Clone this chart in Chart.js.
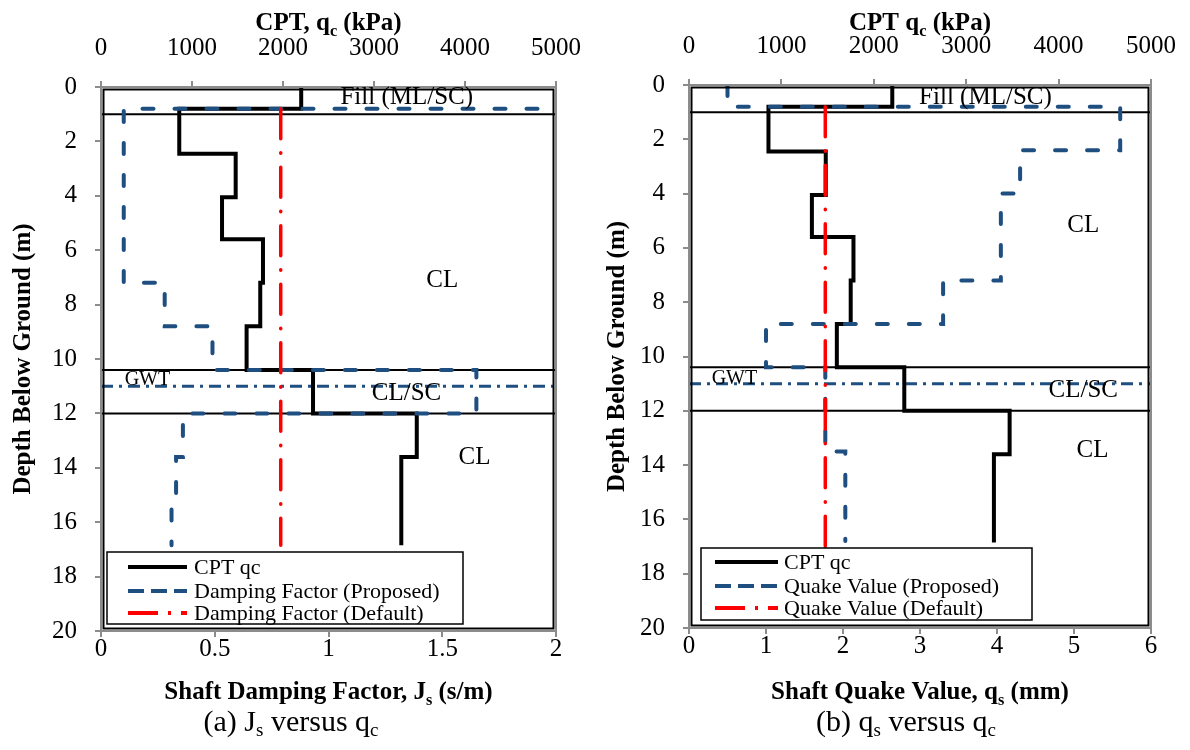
<!DOCTYPE html>
<html>
<head>
<meta charset="utf-8">
<title>Js and qs versus qc</title>
<script src="https://cdn.jsdelivr.net/npm/chart.js@4.4.1/dist/chart.umd.min.js"></script>
<style>
	body { margin: 0; background: #fff; }
	#page { position: relative; width: 1190px; height: 750px; overflow: hidden; font-family: "Liberation Serif", "Times New Roman", serif; }
	.box { position: absolute; top: 0; height: 750px; }
	#boxA { left: 0; width: 590px; }
	#boxB { left: 590px; width: 600px; }
	.cap { position: absolute; top: 703px; font-size: 30px; line-height: 36px; color: #000; transform: translateX(-50%); white-space: nowrap; }
	.cap sub { font-size: 19px; vertical-align: -5px; line-height: 0; }
</style>
</head>
<body>
<div id="page">
	<div class="box" id="boxA"><canvas id="chartA"></canvas></div>
	<div class="box" id="boxB"><canvas id="chartB"></canvas></div>
	<div class="cap" style="left: 291px;">(a) J<sub>s</sub> versus q<sub>c</sub></div>
	<div class="cap" style="left: 906px;">(b) q<sub>s</sub> versus q<sub>c</sub></div>
</div>
<script>
// values (depth in m)
const cptQc = [2200, 2200, 860, 860, 1480, 1480, 1330, 1330, 1780, 1780, 1750, 1750, 1600, 1600, 2330, 2330, 3470, 3470, 3300, 3300]
const cptDepth = [0, 0.8, 0.8, 2.45, 2.45, 4.05, 4.05, 5.6, 5.6, 7.2, 7.2, 8.8, 8.8, 10.4, 10.4, 12, 12, 13.6, 13.6, 16.85]

const jsProposed = [2.2, 0.1, 0.1, 0.28, 0.28, 0.49, 0.49, 1.65, 1.65, 0.36, 0.36, 0.33, 0.33, 0.31, 0.31]
const jsProposedDepth = [0.8, 0.8, 7.2, 7.2, 8.8, 8.8, 10.4, 10.4, 12, 12, 13.6, 13.6, 15.2, 15.2, 16.85]
const jsDefault = [0.79, 0.79]
const jsDefaultDepth = [0.8, 16.85]

const qsProposed = [0.5, 0.5, 5.6, 5.6, 4.3, 4.3, 4.05, 4.05, 3.3, 3.3, 1.0, 1.0, 1.77, 1.77, 2.03, 2.03]
const qsProposedDepth = [0, 0.8, 0.8, 2.4, 2.4, 4.0, 4.0, 7.2, 7.2, 8.8, 8.8, 10.4, 10.4, 13.5, 13.5, 16.8]
const qsDefault = [1.77, 1.77]
const qsDefaultDepth = [0.8, 17.0]

const layerDepths = [1.0, 10.4, 12.0]
const gwtDepths = [11.0]

const depthTicks = [0, 2, 4, 6, 8, 10, 12, 14, 16, 18, 20]
const qcTicks = [0, 1000, 2000, 3000, 4000, 5000]
const jsTicks = [0, 0.5, 1, 1.5, 2]
const qsTicks = [0, 1, 2, 3, 4, 5, 6]

const legendA = ['CPT qc', 'Damping Factor (Proposed)', 'Damping Factor (Default)']
const legendB = ['CPT qc', 'Quake Value (Proposed)', 'Quake Value (Default)']

var app = app || {}
app = (() => {
	const FONT = '"Liberation Serif", "Times New Roman", serif'
	const BLUE = '#1f4e80'
	const RED = '#ff0000'

	let styles = {
		cpt: { borderColor: '#000', borderWidth: 4, borderJoinStyle: 'miter' },
		proposed: { borderColor: BLUE, borderWidth: 4, borderDash: [11, 21], borderCapStyle: 'round' },
		dflt: { borderColor: RED, borderWidth: 3.5, borderDash: [30, 14, 0.5, 14], borderCapStyle: 'round' },
		gwt: { borderColor: BLUE, borderWidth: 3, borderDash: [12, 6, 3, 6] },
		layer: { borderColor: '#000', borderWidth: 2 }
	}
	// legend swatches use a shorter dash, like the original
	let swatch = [
		{ color: '#000', width: 4, dash: [] },
		{ color: BLUE, width: 4, dash: [16, 7] },
		{ color: RED, width: 4, dash: [30, 10, 3, 10] }
	]

	let pts = (xs, ys) => xs.map((x, i) => ({ x: x, y: ys[i] }))

	let lineSet = (data, xAxisID, style, clip) => Object.assign({
		data: data, xAxisID: xAxisID, yAxisID: 'y',
		showLine: true, pointRadius: 0, pointHoverRadius: 0, fill: false, tension: 0,
		clip: clip === undefined ? 2 : clip
	}, style)

	let rich = (c, parts, x, y, size, bold) => {
		let f = s => `${bold ? 'bold ' : ''}${s}px ${FONT}`
		let w = 0
		parts.forEach(p => {
			c.font = f(p.sub ? size * 0.65 : size)
			w += c.measureText(p.t).width
		})
		let px = x - w / 2
		c.textAlign = 'left'
		c.textBaseline = 'alphabetic'
		parts.forEach(p => {
			c.font = f(p.sub ? size * 0.65 : size)
			c.fillText(p.t, px, p.sub ? y + size * 0.25 : y)
			px += c.measureText(p.t).width
		})
	}

	let overlay = cfg => ({
		id: 'overlay',
		afterDraw: chart => {
			let c = chart.ctx, a = chart.chartArea
			let sx = chart.scales.x, sy = chart.scales.y
			c.save()
			// plot frame: grey axis box with black plot border just inside
			c.setLineDash([])
			c.strokeStyle = '#8c8c8c'
			c.lineWidth = 2
			c.strokeRect(a.left, a.top, a.right - a.left, a.bottom - a.top)
			c.strokeStyle = '#000'
			c.lineWidth = 2
			c.strokeRect(a.left + 2.5, a.top + 2.5, a.right - a.left - 5, a.bottom - a.top - 5)

			// soil layer notes
			c.fillStyle = '#000'
			c.textAlign = 'center'
			c.textBaseline = 'middle'
			cfg.notes.forEach(n => {
				c.font = `${n.size}px ${FONT}`
				c.fillText(n.text, sx.getPixelForValue(n.x), sy.getPixelForValue(n.y))
			})

			// legend box
			let L = cfg.legend
			c.fillStyle = '#fff'
			c.fillRect(L.x, L.y, L.w, L.h)
			c.strokeStyle = '#000'
			c.lineWidth = 1.5
			c.strokeRect(L.x, L.y, L.w, L.h)
			L.labels.forEach((t, i) => {
				let s = swatch[i]
				c.beginPath()
				c.strokeStyle = s.color
				c.lineWidth = s.width
				c.setLineDash(s.dash)
				c.moveTo(L.sx0, L.rows[i])
				c.lineTo(L.sx1, L.rows[i])
				c.stroke()
				c.setLineDash([])
				c.fillStyle = '#000'
				c.font = `22px ${FONT}`
				c.textAlign = 'left'
				c.textBaseline = 'middle'
				c.fillText(t, L.tx, L.rows[i] + 1)
			})

			// axis titles
			c.fillStyle = '#000'
			let mid = (a.left + a.right) / 2
			rich(c, cfg.topTitle, mid, 30, 25, true)
			rich(c, cfg.bottomTitle, mid, 699, 25, true)
			c.translate(cfg.yTitleX, (a.top + a.bottom) / 2)
			c.rotate(-Math.PI / 2)
			c.font = `bold 25px ${FONT}`
			c.textAlign = 'center'
			c.textBaseline = 'middle'
			c.fillText('Depth Below Ground (m)', 0, 0)
			c.restore()
		}
	})

	let axis = (pos, min, max, ticks, padding, fit) => ({
		type: 'linear', position: pos, min: min, max: max,
		reverse: pos === 'left',
		afterBuildTicks: s => { s.ticks = ticks.map(v => ({ value: v })) },
		afterFit: s => {
			fit(s)
			// keep the plot area where the layout puts it, labels may overhang
			s.paddingLeft = s.paddingRight = s.paddingTop = s.paddingBottom = 0
		},
		grid: { display: true, drawOnChartArea: false, drawTicks: true, tickLength: 6, color: '#8c8c8c', lineWidth: 2 },
		border: { display: false },
		ticks: {
			color: '#000', padding: padding, maxRotation: 0, autoSkip: false,
			font: { family: FONT, size: 25, lineHeight: 1 },
			callback: v => `${v}`
		}
	})

	let makeChart = cfg => {
		let G = cfg.geom
		let datasets = [
			lineSet(pts(cfg.dflt, cfg.dfltDepth), 'x', styles.dflt),
			lineSet(pts(cfg.prop, cfg.propDepth), 'x', styles.proposed, 0),
			lineSet(pts(cptQc, cptDepth), 'xq', styles.cpt)
		]
		gwtDepths.forEach(d => datasets.push(lineSet(pts([cfg.xMin, cfg.xMax], [d, d]), 'x', styles.gwt, 0)))
		layerDepths.forEach(d => datasets.push(lineSet(pts([cfg.xMin, cfg.xMax], [d, d]), 'x', styles.layer, 0)))

		return new Chart(document.getElementById(cfg.id), {
			type: 'scatter',
			data: { datasets: datasets },
			options: {
				responsive: true,
				maintainAspectRatio: false,
				animation: false,
				events: [],
				layout: { padding: { left: 0, right: G.w - G.right, top: 0, bottom: 0 } },
				plugins: { legend: { display: false }, tooltip: { enabled: false } },
				scales: {
					x: axis('bottom', cfg.xMin, cfg.xMax, cfg.xTicks, 0, s => { s.height = 750 - G.bottom }),
					xq: axis('top', 0, 5000, qcTicks, 20, s => { s.height = G.top }),
					y: axis('left', 0, 20, depthTicks, 18, s => { s.width = G.left })
				}
			},
			plugins: [overlay(cfg)]
		})
	}

	let onCreate = () => {
		makeChart({
			id: 'chartA',
			geom: { w: 590, left: 101, right: 556, top: 87, bottom: 631 },
			xMin: 0, xMax: 2, xTicks: jsTicks,
			prop: jsProposed, propDepth: jsProposedDepth,
			dflt: jsDefault, dfltDepth: jsDefaultDepth,
			topTitle: [{ t: 'CPT, q' }, { t: 'c', sub: true }, { t: ' (kPa)' }],
			bottomTitle: [{ t: 'Shaft Damping Factor, J' }, { t: 's', sub: true }, { t: ' (s/m)' }],
			yTitleX: 24,
			notes: [
				{ text: 'Fill (ML/SC)', x: 1.344, y: 0.4, size: 25 },
				{ text: 'CL', x: 1.5, y: 7.13, size: 25 },
				{ text: 'GWT', x: 0.204, y: 10.75, size: 20 },
				{ text: 'CL/SC', x: 1.343, y: 11.28, size: 25 },
				{ text: 'CL', x: 1.642, y: 13.63, size: 25 }
			],
			legend: { x: 107, y: 552, w: 356, h: 72, sx0: 128, sx1: 187, tx: 194, rows: [567, 591, 613], labels: legendA }
		})
		makeChart({
			id: 'chartB',
			geom: { w: 600, left: 99, right: 561, top: 85, bottom: 628 },
			xMin: 0, xMax: 6, xTicks: qsTicks,
			prop: qsProposed, propDepth: qsProposedDepth,
			dflt: qsDefault, dfltDepth: qsDefaultDepth,
			topTitle: [{ t: 'CPT q' }, { t: 'c', sub: true }, { t: ' (kPa)' }],
			bottomTitle: [{ t: 'Shaft Quake Value, q' }, { t: 's', sub: true }, { t: ' (mm)' }],
			yTitleX: 28,
			notes: [
				{ text: 'Fill (ML/SC)', x: 3.85, y: 0.46, size: 25 },
				{ text: 'CL', x: 5.12, y: 5.17, size: 25 },
				{ text: 'GWT', x: 0.59, y: 10.81, size: 20 },
				{ text: 'CL/SC', x: 5.12, y: 11.24, size: 25 },
				{ text: 'CL', x: 5.24, y: 13.46, size: 25 }
			],
			legend: { x: 111, y: 548, w: 331, h: 72, sx0: 125, sx1: 188, tx: 194, rows: [562, 586, 608], labels: legendB }
		})
	}
	return { onCreate }
})()
app.onCreate()
</script>
</body>
</html>
